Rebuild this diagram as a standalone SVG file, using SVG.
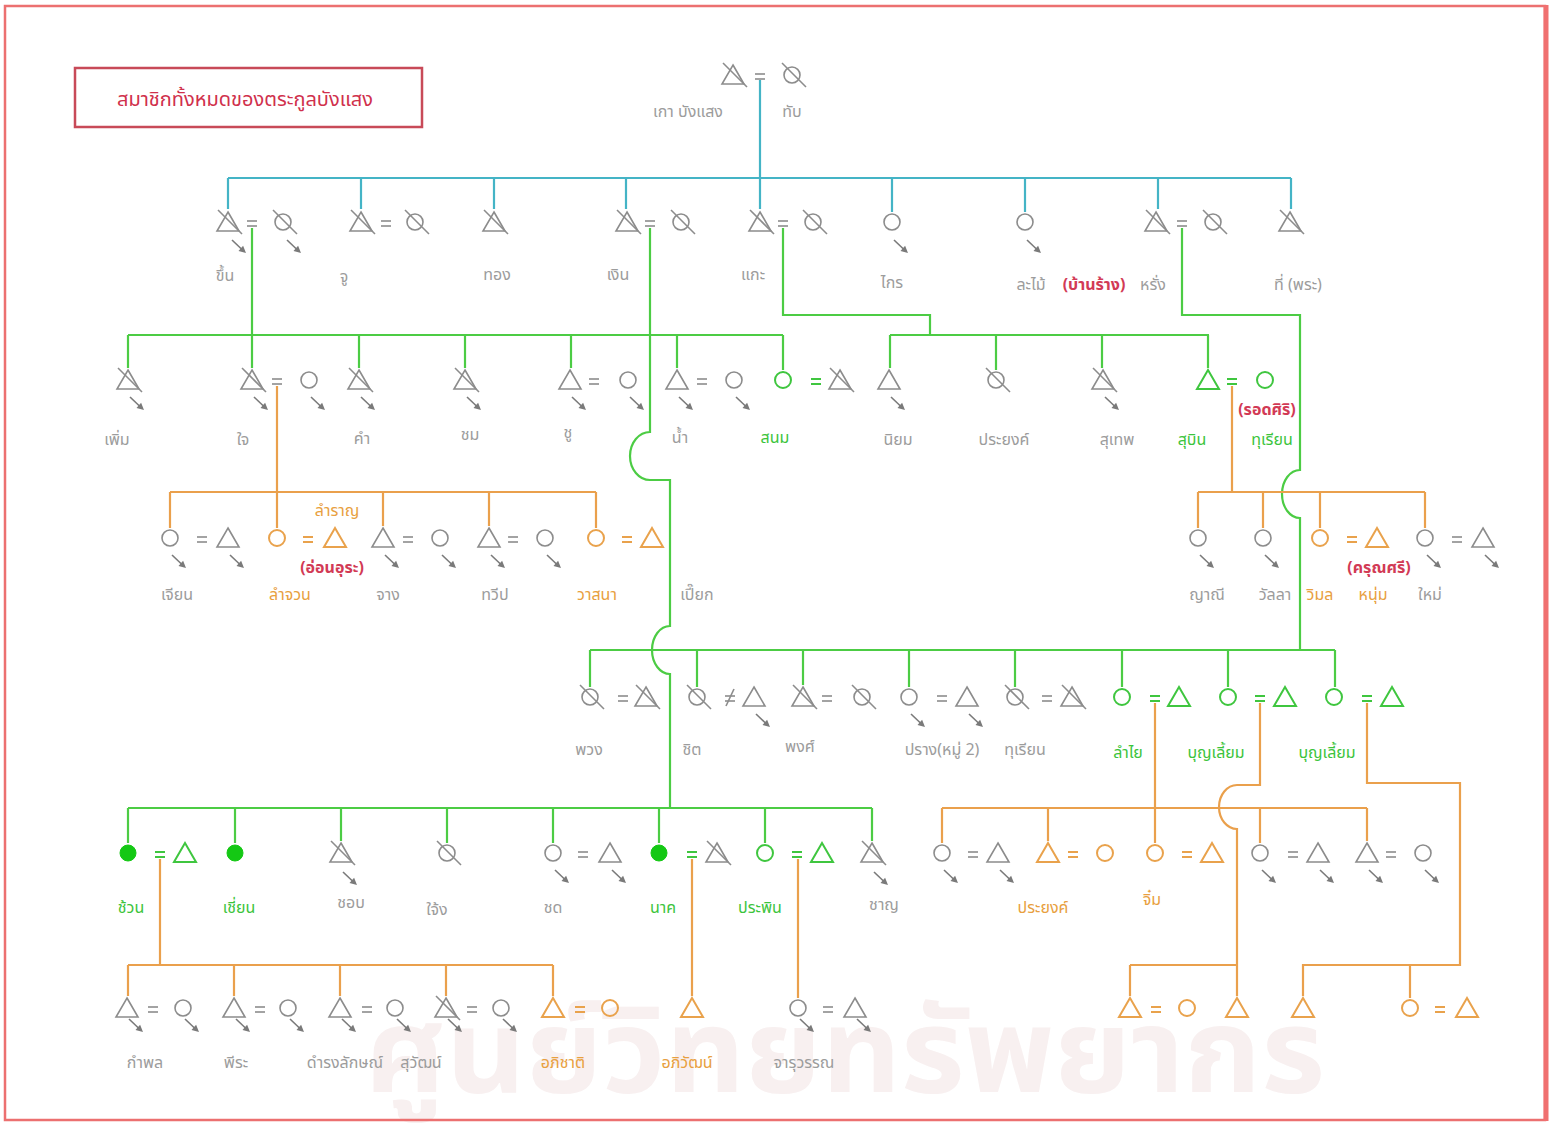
<svg xmlns="http://www.w3.org/2000/svg" xmlns:xlink="http://www.w3.org/1999/xlink" width="1550" height="1125" viewBox="0 0 1550 1125">
<style>
.s{fill:none;stroke:#8c8c8c;stroke-width:1.6}
.sg{fill:none;stroke:#3fc63f;stroke-width:2}
.so{fill:none;stroke:#e9a24c;stroke-width:2}
.lt{fill:none;stroke:#44b4c6;stroke-width:2.2}
.lg{fill:none;stroke:#4ccc44;stroke-width:2.2}
.lo{fill:none;stroke:#eaa04c;stroke-width:2.2}
text{font-family:"Noto Sans Thai","Noto Sans","DejaVu Sans",sans-serif;font-size:16px;text-anchor:middle}
.t{fill:#9c9c9c}
.tg{fill:#3cc43c}
.to{fill:#e8a040}
.tr{fill:#d23a55;font-weight:bold}
</style>
<defs>
<g id="T"><polygon points="0,-10 11,9 -11,9"/></g>
<g id="C"><circle r="8"/></g>
<g id="F"><circle r="8" fill="#14c814" stroke="#14c814"/></g>
<g id="X"><line x1="-10" y1="-12" x2="14" y2="12"/></g>
<g id="E"><line x1="-5" y1="-1" x2="5" y2="-1"/><line x1="-5" y1="4" x2="5" y2="4"/></g>
<g id="A"><line x1="0" y1="0" x2="10" y2="9.5" stroke="#7a7a7a" stroke-width="1.6"/><polygon points="14,13 6.5,10.9 11.1,5.7" fill="#7a7a7a"/></g>
</defs>
<rect width="1550" height="1125" fill="#ffffff"/>
<text x="845" y="1092" textLength="960" lengthAdjust="spacingAndGlyphs" style="font-size:118px;font-weight:bold;fill:#f8f0f0">ศูนย์วิทยทรัพยากร</text>
<rect x="5" y="6" width="1540" height="1114" fill="none" stroke="#ec7070" stroke-width="2.5"/>
<line x1="1546" y1="5" x2="1546" y2="1121" stroke="#f07070" stroke-width="5"/>
<g id="title">
<rect x="75" y="68" width="347" height="59" fill="none" stroke="#c84a58" stroke-width="2.5"/>
<text x="245" y="106" style="font-size:20px;fill:#d0304c">สมาชิกทั้งหมดของตระกูลบังแสง</text>
</g>
<g id="connectors">
<path class="lt" d="M760,80V209M228,178H1291M228,178V209M361,178V209M494,178V209M626,178V209M892,178V212M1025,178V212M1158,178V209M1291,178V209"/>
<path class="lg" d="M252,228V368M128,335H783M128,335V368M359,335V368M465,335V368M571,335V368M677,335V368M783,335V370"/>
<path class="lg" d="M783,228V315H930V335M890,335H1209M890,335V368M996,335V370M1102,335V368M1208,335V368"/>
<path class="lg" d="M650,228V432A20,24 0 0 0 650,480H670V626A18,24 0 0 0 670,674V808"/>
<path class="lg" d="M1182,228V315H1300V470A18,24 0 0 0 1300,518V650"/>
<path class="lo" d="M277,386V528M170,492H596M170,492V528M383,492V526M489,492V526M596,492V528"/>
<path class="lo" d="M1232,386V492M1198,492H1425M1198,492V528M1263,492V528M1320,492V528M1425,492V528"/>
<path class="lg" d="M590,650H1335M590,650V687M697,650V687M803,650V685M909,650V687M1015,650V687M1122,650V687M1228,650V687M1335,650V687"/>
<path class="lg" d="M128,808H872M128,808V843M235,808V843M341,808V841M447,808V843M553,808V843M659,808V843M765,808V843M872,808V841"/>
<path class="lo" d="M1155,703V843M942,808H1367M942,808V843M1048,808V841M1260,808V843M1367,808V841"/>
<path class="lo" d="M1260,703V785H1237A18,22 0 0 0 1237,829V996"/>
<path class="lo" d="M1367,703V783H1460V965H1303V996M1410,965V998"/>
<path class="lo" d="M1130,965H1237M1130,965V996"/>
<path class="lo" d="M160,859V965M128,965H553M128,965V996M234,965V996M340,965V996M446,965V996M553,965V996"/>
<path class="lo" d="M692,859V996M798,859V998"/>
</g>
<g id="n1">
<use href="#T" x="733" y="75" class="s"/><use href="#X" x="733" y="75" class="s"/>
<use href="#E" x="760" y="75" class="s"/>
<use href="#C" x="792" y="75" class="s"/><use href="#X" x="792" y="75" class="s"/>
<text class="t" x="688" y="117">เกา บังแสง</text><text class="t" x="792" y="117">ทับ</text>
</g>
<g id="n2-1">
<use href="#T" x="228" y="222" class="s"/><use href="#X" x="228" y="222" class="s"/><use href="#A" x="232" y="240"/>
<use href="#E" x="252" y="222" class="s"/>
<use href="#C" x="283" y="222" class="s"/><use href="#X" x="283" y="222" class="s"/><use href="#A" x="287" y="240"/>
<text class="t" x="225" y="281">ขึ้น</text>
</g>
<g id="n2-2">
<use href="#T" x="361" y="222" class="s"/><use href="#X" x="361" y="222" class="s"/>
<use href="#E" x="386" y="222" class="s"/>
<use href="#C" x="415" y="222" class="s"/><use href="#X" x="415" y="222" class="s"/>
<text class="t" x="344" y="282">จู</text>
</g>
<g id="n2-3">
<use href="#T" x="494" y="222" class="s"/><use href="#X" x="494" y="222" class="s"/>
<text class="t" x="497" y="280">ทอง</text>
</g>
<g id="n2-4">
<use href="#T" x="627" y="222" class="s"/><use href="#X" x="627" y="222" class="s"/>
<use href="#E" x="650" y="222" class="s"/>
<use href="#C" x="681" y="222" class="s"/><use href="#X" x="681" y="222" class="s"/>
<text class="t" x="618" y="280">เงิน</text>
</g>
<g id="n2-5">
<use href="#T" x="760" y="222" class="s"/><use href="#X" x="760" y="222" class="s"/>
<use href="#E" x="783" y="222" class="s"/>
<use href="#C" x="813" y="222" class="s"/><use href="#X" x="813" y="222" class="s"/>
<text class="t" x="753" y="280">แกะ</text>
</g>
<g id="n2-6">
<use href="#C" x="892" y="222" class="s"/><use href="#A" x="894" y="240"/>
<text class="t" x="892" y="288">ไกร</text>
</g>
<g id="n2-7">
<use href="#C" x="1025" y="222" class="s"/><use href="#A" x="1027" y="240"/>
<text class="t" x="1031" y="290">ละไม้</text><text class="tr" x="1094" y="290">(บ้านร้าง)</text>
</g>
<g id="n2-8">
<use href="#T" x="1156" y="222" class="s"/><use href="#X" x="1156" y="222" class="s"/>
<use href="#E" x="1182" y="222" class="s"/>
<use href="#C" x="1213" y="222" class="s"/><use href="#X" x="1213" y="222" class="s"/>
<text class="t" x="1153" y="290">หรั่ง</text>
</g>
<g id="n2-9">
<use href="#T" x="1290" y="222" class="s"/><use href="#X" x="1290" y="222" class="s"/>
<text class="t" x="1298" y="290">ที่ (พระ)</text>
</g>
<g id="n3-1">
<use href="#T" x="128" y="380" class="s"/><use href="#X" x="128" y="380" class="s"/><use href="#A" x="130" y="397"/>
<text class="t" x="117" y="445">เพิ่ม</text>
</g>
<g id="n3-2">
<use href="#T" x="252" y="380" class="s"/><use href="#X" x="252" y="380" class="s"/><use href="#A" x="254" y="397"/>
<use href="#E" x="277" y="380" class="s"/>
<use href="#C" x="309" y="380" class="s"/><use href="#A" x="311" y="397"/>
<text class="t" x="243" y="445">ใจ</text>
</g>
<g id="n3-3">
<use href="#T" x="359" y="380" class="s"/><use href="#X" x="359" y="380" class="s"/><use href="#A" x="361" y="397"/>
<text class="t" x="362" y="444">คำ</text>
</g>
<g id="n3-4">
<use href="#T" x="465" y="380" class="s"/><use href="#X" x="465" y="380" class="s"/><use href="#A" x="467" y="397"/>
<text class="t" x="470" y="440">ชม</text>
</g>
<g id="n3-5">
<use href="#T" x="570" y="380" class="s"/><use href="#A" x="572" y="397"/>
<use href="#E" x="594" y="380" class="s"/>
<use href="#C" x="628" y="380" class="s"/><use href="#A" x="630" y="397"/>
<text class="t" x="568" y="438">ชู</text>
</g>
<g id="n3-6">
<use href="#T" x="677" y="380" class="s"/><use href="#A" x="679" y="397"/>
<use href="#E" x="702" y="380" class="s"/>
<use href="#C" x="734" y="380" class="s"/><use href="#A" x="736" y="397"/>
<text class="t" x="680" y="443">น้ำ</text>
</g>
<g id="n3-7">
<use href="#C" x="783" y="380" class="sg"/>
<use href="#E" x="816" y="380" class="sg"/>
<use href="#T" x="840" y="380" class="s"/><use href="#X" x="840" y="380" class="s"/>
<text class="tg" x="775" y="443">สนม</text>
</g>
<g id="n3-8">
<use href="#T" x="889" y="380" class="s"/><use href="#A" x="891" y="397"/>
<text class="t" x="898" y="445">นิยม</text>
</g>
<g id="n3-9">
<use href="#C" x="996" y="380" class="s"/><use href="#X" x="996" y="380" class="s"/>
<text class="t" x="1004" y="445">ประยงค์</text>
</g>
<g id="n3-10">
<use href="#T" x="1103" y="380" class="s"/><use href="#X" x="1103" y="380" class="s"/><use href="#A" x="1105" y="397"/>
<text class="t" x="1117" y="445">สุเทพ</text>
</g>
<g id="n3-11">
<use href="#T" x="1208" y="380" class="sg"/>
<use href="#E" x="1232" y="380" class="sg"/>
<use href="#C" x="1265" y="380" class="sg"/>
<text class="tr" x="1267" y="415">(รอดศิริ)</text>
<text class="tg" x="1192" y="445">สุบิน</text><text class="tg" x="1272" y="445">ทุเรียน</text>
</g>
<g id="n4-1">
<use href="#C" x="170" y="538" class="s"/><use href="#A" x="172" y="555"/>
<use href="#E" x="202" y="538" class="s"/>
<use href="#T" x="228" y="538" class="s"/><use href="#A" x="230" y="555"/>
<text class="t" x="177" y="600">เจียน</text>
</g>
<g id="n4-2">
<use href="#C" x="277" y="538" class="so"/>
<use href="#E" x="308" y="538" class="so"/>
<use href="#T" x="335" y="538" class="so"/>
<text class="to" x="337" y="516">ลำราญ</text>
<text class="tr" x="332" y="573">(อ่อนอุระ)</text>
<text class="to" x="290" y="600">ลำจวน</text>
</g>
<g id="n4-3">
<use href="#T" x="383" y="538" class="s"/><use href="#A" x="385" y="555"/>
<use href="#E" x="408" y="538" class="s"/>
<use href="#C" x="440" y="538" class="s"/><use href="#A" x="442" y="555"/>
<text class="t" x="388" y="600">จาง</text>
</g>
<g id="n4-4">
<use href="#T" x="489" y="538" class="s"/><use href="#A" x="491" y="555"/>
<use href="#E" x="513" y="538" class="s"/>
<use href="#C" x="545" y="538" class="s"/><use href="#A" x="547" y="555"/>
<text class="t" x="495" y="600">ทวีป</text>
</g>
<g id="n4-5">
<use href="#C" x="596" y="538" class="so"/>
<use href="#E" x="627" y="538" class="so"/>
<use href="#T" x="652" y="538" class="so"/>
<text class="to" x="597" y="600">วาสนา</text>
</g>
<g id="n4-6"><text class="t" x="697" y="600">เปี๊ยก</text></g>
<g id="n4-7">
<use href="#C" x="1198" y="538" class="s"/><use href="#A" x="1200" y="555"/>
<text class="t" x="1207" y="600">ญาณี</text>
</g>
<g id="n4-8">
<use href="#C" x="1263" y="538" class="s"/><use href="#A" x="1265" y="555"/>
<text class="t" x="1275" y="600">วัลลา</text>
</g>
<g id="n4-9">
<use href="#C" x="1320" y="538" class="so"/>
<use href="#E" x="1352" y="538" class="so"/>
<use href="#T" x="1377" y="538" class="so"/>
<text class="tr" x="1379" y="573">(ครุณศรี)</text>
<text class="to" x="1320" y="600">วิมล</text><text class="to" x="1373" y="600">หนุ่ม</text>
</g>
<g id="n4-10">
<use href="#C" x="1425" y="538" class="s"/><use href="#A" x="1427" y="555"/>
<use href="#E" x="1457" y="538" class="s"/>
<use href="#T" x="1483" y="538" class="s"/><use href="#A" x="1485" y="555"/>
<text class="t" x="1430" y="600">ใหม่</text>
</g>
<g id="n5-1">
<use href="#C" x="590" y="697" class="s"/><use href="#X" x="590" y="697" class="s"/>
<use href="#E" x="623" y="697" class="s"/>
<use href="#T" x="646" y="697" class="s"/><use href="#X" x="646" y="697" class="s"/>
<text class="t" x="589" y="755">พวง</text>
</g>
<g id="n5-2">
<use href="#C" x="697" y="697" class="s"/><use href="#X" x="697" y="697" class="s"/>
<use href="#E" x="730" y="697" class="s"/><line x1="726" y1="706" x2="734" y2="689" class="s"/>
<use href="#T" x="754" y="697" class="s"/><use href="#A" x="756" y="714"/>
<text class="t" x="692" y="755">ชิต</text>
</g>
<g id="n5-3">
<use href="#T" x="803" y="697" class="s"/><use href="#X" x="803" y="697" class="s"/>
<use href="#E" x="827" y="697" class="s"/>
<use href="#C" x="862" y="697" class="s"/><use href="#X" x="862" y="697" class="s"/>
<text class="t" x="800" y="752">พงศ์</text>
</g>
<g id="n5-4">
<use href="#C" x="909" y="697" class="s"/><use href="#A" x="911" y="714"/>
<use href="#E" x="942" y="697" class="s"/>
<use href="#T" x="967" y="697" class="s"/><use href="#A" x="969" y="714"/>
<text class="t" x="942" y="755">ปราง(หมู่ 2)</text>
</g>
<g id="n5-5">
<use href="#C" x="1015" y="697" class="s"/><use href="#X" x="1015" y="697" class="s"/>
<use href="#E" x="1047" y="697" class="s"/>
<use href="#T" x="1072" y="697" class="s"/><use href="#X" x="1072" y="697" class="s"/>
<text class="t" x="1025" y="755">ทุเรียน</text>
</g>
<g id="n5-6">
<use href="#C" x="1122" y="697" class="sg"/>
<use href="#E" x="1155" y="697" class="sg"/>
<use href="#T" x="1179" y="697" class="sg"/>
<text class="tg" x="1128" y="758">ลำไย</text>
</g>
<g id="n5-7">
<use href="#C" x="1228" y="697" class="sg"/>
<use href="#E" x="1260" y="697" class="sg"/>
<use href="#T" x="1285" y="697" class="sg"/>
<text class="tg" x="1216" y="758">บุญเลี้ยม</text>
</g>
<g id="n5-8">
<use href="#C" x="1334" y="697" class="sg"/>
<use href="#E" x="1367" y="697" class="sg"/>
<use href="#T" x="1392" y="697" class="sg"/>
<text class="tg" x="1327" y="758">บุญเลี้ยม</text>
</g>
<g id="n6-1">
<use href="#F" x="128" y="853"/>
<use href="#E" x="160" y="853" class="sg"/>
<use href="#T" x="185" y="853" class="sg"/>
<text class="tg" x="131" y="913">ช้วน</text>
</g>
<g id="n6-2">
<use href="#F" x="235" y="853"/>
<text class="tg" x="239" y="913">เชี่ยน</text>
</g>
<g id="n6-3">
<use href="#T" x="341" y="853" class="s"/><use href="#X" x="341" y="853" class="s"/><use href="#A" x="343" y="872"/>
<text class="t" x="351" y="908">ชอบ</text>
</g>
<g id="n6-4">
<use href="#C" x="447" y="853" class="s"/><use href="#X" x="447" y="853" class="s"/>
<text class="t" x="437" y="915">ใจ้ง</text>
</g>
<g id="n6-5">
<use href="#C" x="553" y="853" class="s"/><use href="#A" x="555" y="870"/>
<use href="#E" x="583" y="853" class="s"/>
<use href="#T" x="610" y="853" class="s"/><use href="#A" x="612" y="870"/>
<text class="t" x="553" y="913">ชด</text>
</g>
<g id="n6-6">
<use href="#F" x="659" y="853"/>
<use href="#E" x="692" y="853" class="sg"/>
<use href="#T" x="717" y="853" class="s"/><use href="#X" x="717" y="853" class="s"/>
<text class="tg" x="663" y="913">นาค</text>
</g>
<g id="n6-7">
<use href="#C" x="765" y="853" class="sg"/>
<use href="#E" x="797" y="853" class="sg"/>
<use href="#T" x="822" y="853" class="sg"/>
<text class="tg" x="760" y="913">ประพิน</text>
</g>
<g id="n6-8">
<use href="#T" x="872" y="853" class="s"/><use href="#X" x="872" y="853" class="s"/><use href="#A" x="874" y="872"/>
<text class="t" x="884" y="910">ชาญ</text>
</g>
<g id="n6-9">
<use href="#C" x="942" y="853" class="s"/><use href="#A" x="944" y="870"/>
<use href="#E" x="973" y="853" class="s"/>
<use href="#T" x="998" y="853" class="s"/><use href="#A" x="1000" y="870"/>
</g>
<g id="n6-10">
<use href="#T" x="1048" y="853" class="so"/>
<use href="#E" x="1073" y="853" class="so"/>
<use href="#C" x="1105" y="853" class="so"/>
<text class="to" x="1043" y="913">ประยงค์</text>
</g>
<g id="n6-11">
<use href="#C" x="1155" y="853" class="so"/>
<use href="#E" x="1187" y="853" class="so"/>
<use href="#T" x="1212" y="853" class="so"/>
<text class="to" x="1152" y="905">จิ๋ม</text>
</g>
<g id="n6-12">
<use href="#C" x="1260" y="853" class="s"/><use href="#A" x="1262" y="870"/>
<use href="#E" x="1293" y="853" class="s"/>
<use href="#T" x="1318" y="853" class="s"/><use href="#A" x="1320" y="870"/>
</g>
<g id="n6-13">
<use href="#T" x="1367" y="853" class="s"/><use href="#A" x="1369" y="870"/>
<use href="#E" x="1391" y="853" class="s"/>
<use href="#C" x="1423" y="853" class="s"/><use href="#A" x="1425" y="870"/>
</g>
<g id="n7-1">
<use href="#T" x="127" y="1008" class="s"/><use href="#A" x="129" y="1019"/>
<use href="#E" x="153" y="1008" class="s"/>
<use href="#C" x="183" y="1008" class="s"/><use href="#A" x="185" y="1019"/>
<text class="t" x="145" y="1068">กำพล</text>
</g>
<g id="n7-2">
<use href="#T" x="234" y="1008" class="s"/><use href="#A" x="236" y="1019"/>
<use href="#E" x="260" y="1008" class="s"/>
<use href="#C" x="288" y="1008" class="s"/><use href="#A" x="290" y="1019"/>
<text class="t" x="236" y="1068">พีระ</text>
</g>
<g id="n7-3">
<use href="#T" x="340" y="1008" class="s"/><use href="#A" x="342" y="1019"/>
<use href="#E" x="367" y="1008" class="s"/>
<use href="#C" x="395" y="1008" class="s"/><use href="#A" x="397" y="1019"/>
<text class="t" x="345" y="1068">ดำรงลักษณ์</text>
</g>
<g id="n7-4">
<use href="#T" x="446" y="1008" class="s"/><use href="#X" x="446" y="1008" class="s"/><use href="#A" x="448" y="1019"/>
<use href="#E" x="472" y="1008" class="s"/>
<use href="#C" x="501" y="1008" class="s"/><use href="#A" x="503" y="1019"/>
<text class="t" x="421" y="1068">สุวัฒน์</text>
</g>
<g id="n7-5">
<use href="#T" x="553" y="1008" class="so"/>
<use href="#E" x="580" y="1008" class="so"/>
<use href="#C" x="610" y="1008" class="so"/>
<text class="to" x="563" y="1068">อภิชาติ</text>
</g>
<g id="n7-6">
<use href="#T" x="692" y="1008" class="so"/>
<text class="to" x="687" y="1068">อภิวัฒน์</text>
</g>
<g id="n7-7">
<use href="#C" x="798" y="1008" class="s"/><use href="#A" x="800" y="1019"/>
<use href="#E" x="828" y="1008" class="s"/>
<use href="#T" x="855" y="1008" class="s"/><use href="#A" x="857" y="1019"/>
<text class="t" x="804" y="1068">จารุวรรณ</text>
</g>
<g id="n7-8">
<use href="#T" x="1130" y="1008" class="so"/>
<use href="#E" x="1156" y="1008" class="so"/>
<use href="#C" x="1187" y="1008" class="so"/>
</g>
<g id="n7-9"><use href="#T" x="1237" y="1008" class="so"/></g>
<g id="n7-10"><use href="#T" x="1303" y="1008" class="so"/></g>
<g id="n7-11">
<use href="#C" x="1410" y="1008" class="so"/>
<use href="#E" x="1440" y="1008" class="so"/>
<use href="#T" x="1467" y="1008" class="so"/>
</g>
</svg>
